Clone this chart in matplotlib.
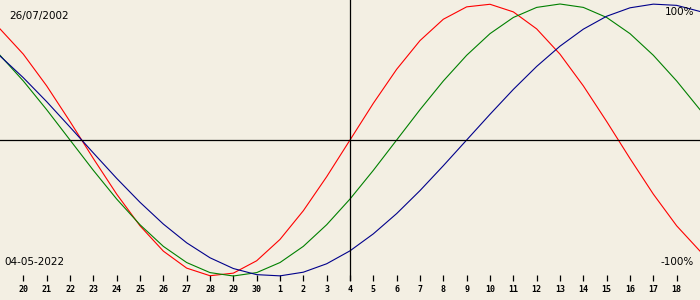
import numpy as np
import matplotlib.pyplot as plt

# Biorhythm around 04-05-2022 for birth date 26/07/2002, one value per day
# day offsets relative to the current day (19 Apr .. 19 May)
offsets = list(range(-15, 16))

physical = [0.817, 0.631, 0.398, 0.136, -0.136, -0.398, -0.631, -0.817, -0.942, -0.998,
            -0.979, -0.888, -0.731, -0.520, -0.270, 0.0, 0.270, 0.520, 0.731, 0.888,
            0.979, 0.998, 0.942, 0.817, 0.631, 0.398, 0.136, -0.136, -0.398, -0.631, -0.817]

emotional = [0.623, 0.434, 0.223, 0.0, -0.223, -0.434, -0.623, -0.782, -0.901, -0.975,
             -1.0, -0.975, -0.901, -0.782, -0.623, -0.434, -0.223, 0.0, 0.223, 0.434,
             0.623, 0.782, 0.901, 0.975, 1.0, 0.975, 0.901, 0.782, 0.623, 0.434, 0.223]

intellectual = [0.618, 0.458, 0.282, 0.095, -0.095, -0.282, -0.458, -0.618, -0.756, -0.866,
                -0.945, -0.990, -0.999, -0.972, -0.910, -0.815, -0.690, -0.541, -0.372, -0.189,
                0.0, 0.189, 0.372, 0.541, 0.690, 0.815, 0.910, 0.972, 0.999, 0.990, 0.945]

tick_days = ['20', '21', '22', '23', '24', '25', '26', '27', '28', '29', '30',
             '1', '2', '3', '4', '5', '6', '7', '8', '9', '10', '11', '12', '13',
             '14', '15', '16', '17', '18']

birth_date = '26/07/2002'
today = '04-05-2022'

bg = '#f3efe3'
fig = plt.figure(figsize=(7, 3), dpi=100, facecolor=bg)
ax = fig.add_axes([0, 19 / 300, 1, 281 / 300])
ax.set_facecolor(bg)

ax.plot(offsets, physical, color='#ff0000', lw=0.8)
ax.plot(offsets, emotional, color='#008000', lw=0.8)
ax.plot(offsets, intellectual, color='#00008b', lw=0.8)

ax.axhline(0, color='black', lw=0.9)
ax.axvline(0, color='black', lw=0.9)

ax.set_xlim(-15, 15)
ax.set_ylim(-281 / 136 + 140 / 136, 140 / 136)
for s in ax.spines.values():
    s.set_visible(False)

ax.set_xticks(offsets[1:-1])
ax.set_xticklabels(tick_days, fontsize=6, fontweight='bold', family='DejaVu Sans Mono')
ax.tick_params(axis='x', direction='in', length=4.5, width=0.9, pad=3, colors='black')
ax.set_yticks([])

fig.text(9 / 700, 1 - 16 / 300, birth_date, fontsize=7.5, va='center', ha='left')
fig.text(4 / 700, 1 - 262 / 300, today, fontsize=7.5, va='center', ha='left')
fig.text(694 / 700, 1 - 12 / 300, '100%', fontsize=7.5, va='center', ha='right')
fig.text(694 / 700, 1 - 262 / 300, '-100%', fontsize=7.5, va='center', ha='right')

fig.savefig('out.png', dpi=100, facecolor=bg)
